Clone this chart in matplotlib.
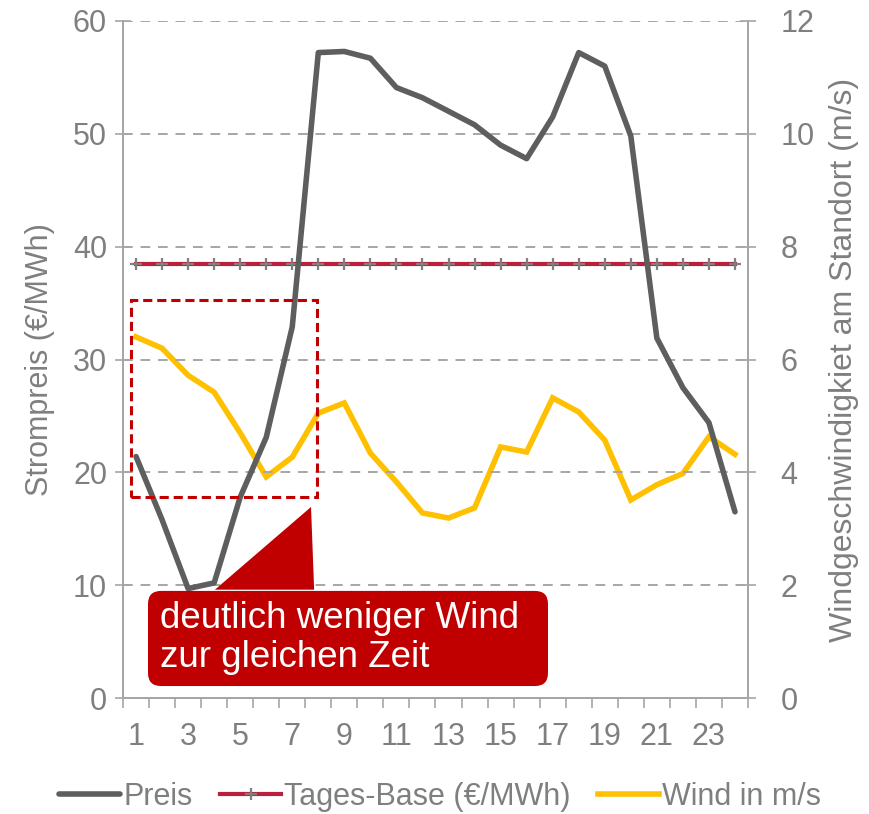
import numpy as np
import matplotlib
matplotlib.use("Agg")
import matplotlib.pyplot as plt
from matplotlib.patches import FancyBboxPatch, Polygon, Rectangle

plt.rcParams['font.family'] = ['Liberation Sans', 'DejaVu Sans']

hours = np.arange(1, 25)
preis = [21.4, 15.8, 9.7, 10.2, 17.8, 23.1, 32.9, 57.2, 57.3, 56.7, 54.1, 53.2,
         52.0, 50.8, 49.0, 47.8, 51.5, 57.2, 56.0, 49.8, 31.9, 27.5, 24.4, 16.5]
tages_base = [38.5] * 24
wind = [6.40, 6.20, 5.72, 5.42, 4.70, 3.92, 4.27, 5.05, 5.23, 4.34, 3.83, 3.28,
        3.19, 3.37, 4.45, 4.36, 5.32, 5.07, 4.57, 3.51, 3.78, 3.98, 4.63, 4.32]

grey_txt = '#7f7f7f'
axis_col = '#a6a6a6'
dark = '#c00000'

fig = plt.figure(figsize=(8.7, 8.14), dpi=100)
ax = fig.add_axes([123/870, 1-698/814, 625/870, 677/814])
ax2 = ax.twinx()

# yellow wind line on right axis, below the other series
l3, = ax2.plot(hours, wind, color='#ffc000', lw=4, solid_joinstyle='miter',
               label='Wind in m/s')
l1, = ax.plot(hours, preis, color='#5d5f5e', lw=4, solid_capstyle='round',
              label='Preis', zorder=4)
l2, = ax.plot(hours, tages_base, color='#b8203c', lw=3, marker='+', ms=9,
              mec='#7f7f7f', mew=1.6, label='Tages-Base (€/MWh)', zorder=3)

ax.set_zorder(ax2.get_zorder() + 1)
ax.patch.set_visible(False)

ax.set_xlim(0.5, 24.5)
ax.set_ylim(0, 60)
ax2.set_ylim(0, 12)

ax.set_xticks(np.arange(1, 25, 2))
ax.set_xticks(np.arange(0.5, 25, 1), minor=True)
ax.tick_params(axis='x', which='major', length=0, pad=17, labelsize=22, labelcolor=grey_txt)
ax.tick_params(axis='x', which='minor', length=7, width=1.2, color=axis_col, direction='out')
ax.set_yticks(np.arange(0, 61, 10))
ax.tick_params(axis='y', direction='inout', length=11, width=1.2, color=axis_col,
               labelsize=22, labelcolor=grey_txt, pad=6)
ax2.set_yticks(np.arange(0, 13, 2))
ax2.tick_params(axis='y', direction='inout', length=11, width=1.2, color=axis_col,
                labelsize=22, labelcolor=grey_txt, pad=18)

for a in (ax, ax2):
    a.spines['top'].set_visible(False)
    for s in ('left', 'right', 'bottom'):
        a.spines[s].set_color(axis_col)
        a.spines[s].set_linewidth(1.4)

for v in np.arange(10, 61, 10):
    ax.axhline(v, color=axis_col, lw=1.4, ls=(0, (5, 4)), zorder=1)

ax.set_ylabel('Strompreis (€/MWh)', fontsize=22, color=grey_txt, labelpad=13)
ax2.set_ylabel('Windgeschwindigkiet am Standort (m/s)', fontsize=23, color=grey_txt, labelpad=10)

# dashed highlight box
ax.add_patch(Rectangle((0.81, 17.8), 7.14, 17.5, fill=False, ec=dark, lw=2.2,
                       ls=(0, (3, 1.6)), zorder=6))

# callout with pointer
aspect = (26.04) / (11.28)
ax.add_patch(Polygon([(4.03, 9.6), (7.72, 16.93), (7.84, 9.6)], closed=True,
                     fc=dark, ec='none', zorder=7))
ax.add_patch(FancyBboxPatch((1.46, 1.06), 15.36, 8.43,
                            boxstyle='round,pad=0,rounding_size=0.5',
                            mutation_aspect=aspect, fc=dark, ec='none', zorder=7))
ax.text(1.92, 5.32, 'deutlich weniger Wind\nzur gleichen Zeit', color='white',
        fontsize=26.5, va='center', ha='left', linespacing=1.12, zorder=8)

fig.legend(handles=[l1, l2, l3], loc='center', bbox_to_anchor=(0.506, 0.021),
           ncol=3, frameon=False, fontsize=22, labelcolor=grey_txt,
           handlelength=2.0, handletextpad=0.1, columnspacing=0.9)

fig.savefig('out.png', dpi=100)
